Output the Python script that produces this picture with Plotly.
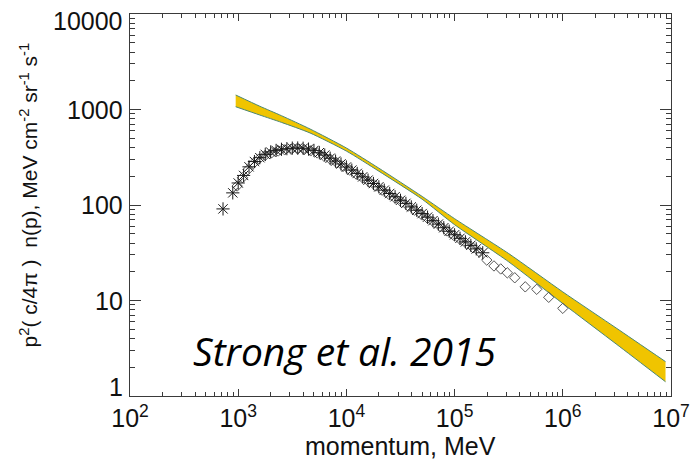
import math
import plotly.graph_objects as go

# Model band (upper / lower edges), momentum in MeV
band_p = [948, 1585, 2512, 4613, 10000, 19950, 50120, 100000, 316200, 1000000, 3162000, 8900000]
band_upper = [1419, 1081, 861, 625, 395, 243, 123, 71.9, 31.0, 12.3, 5.09, 2.29]
band_lower = [1069, 875, 733, 568, 367, 226, 115, 62.2, 25.4, 9.29, 3.46, 1.41]

# Data set 1 (asterisks)
ast_p = [724, 891, 1000, 1122, 1259, 1413, 1585, 1778, 1995, 2239, 2512, 2818, 3162,
         3548, 3981, 4467, 5012, 5623, 6310, 7079, 7943, 8913, 10000, 11220, 12590,
         14130, 15850, 17780, 19950, 22390, 25120, 28180, 31620, 35480, 39810, 44670,
         50120, 56230, 63100, 70790, 79430, 89130, 100000, 112200, 125900, 141300,
         158500, 182000]
ast_v = [91, 134, 170, 204, 251, 285, 313, 339, 359, 373, 383, 389, 394,
         395, 393, 385, 373, 353, 333, 309, 288, 269, 250, 232, 214,
         197, 182, 168, 155, 143, 132, 122, 112, 104, 95.5, 88.1,
         81.3, 74.6, 68.5, 63.1, 57.8, 53.1, 48.8, 44.8, 41.1, 37.8,
         34.7, 31.6]

# Data set 2 (diamonds)
dia_p = [977, 1096, 1230, 1380, 1549, 1778, 2042, 2344, 2692, 3090, 3548, 4074, 4677,
         5370, 6166, 7079, 8128, 9333, 10720, 12300, 14130, 16220, 18620, 21380,
         24550, 28180, 32360, 37150, 42660, 48980, 56230, 64570, 74130, 85110,
         97720, 112200, 128800, 147900, 169800, 198200, 231200, 266700, 306900,
         359700, 449800, 574100, 741300, 1000000]
dia_v = [158, 193, 234, 272, 302, 331, 353, 368, 378, 384, 385, 380, 369,
         351, 327, 302, 277, 254, 232, 211, 192, 174, 158, 143,
         130, 118, 107, 97.3, 88.3, 80.2, 72.4, 65.5, 59.2, 53.5,
         48.3, 43.7, 39.4, 35.6, 32.2, 26.5, 23.0, 21.4, 19.5,
         17.3, 13.9, 13.1, 10.8, 8.28]

x_ticks = [100, 1000, 10000, 100000, 1000000, 10000000]
x_ticktext = ["10<sup>2</sup>", "10<sup>3</sup>", "10<sup>4</sup>",
              "10<sup>5</sup>", "10<sup>6</sup>", "10<sup>7</sup>"]
y_ticks = [1, 10, 100, 1000, 10000]
y_ticktext = ["1", "10", "100", "1000", "10000"]

axis_col = "#3a3a3a"
edge_col = "rgb(75,135,115)"
fill_col = "rgb(240,196,0)"
font_family = "Liberation Sans, Arial, sans-serif"

fig = go.Figure()

fig.add_trace(go.Scatter(x=band_p, y=band_lower, mode="lines",
                         line=dict(color=edge_col, width=1, shape="spline", smoothing=0.6),
                         showlegend=False, hoverinfo="skip"))
fig.add_trace(go.Scatter(x=band_p, y=band_upper, mode="lines", fill="tonexty",
                         fillcolor=fill_col,
                         line=dict(color=edge_col, width=1, shape="spline", smoothing=0.6),
                         showlegend=False, hoverinfo="skip"))

fig.add_trace(go.Scatter(x=dia_p, y=dia_v, mode="markers",
                         marker=dict(symbol="diamond-open", size=8,
                                     color="#555555", line=dict(width=1, color="#555555")),
                         showlegend=False))
fig.add_trace(go.Scatter(x=ast_p, y=ast_v, mode="markers",
                         marker=dict(symbol="asterisk-open", size=11,
                                     color="#1a1a1a", line=dict(width=1, color="#1a1a1a")),
                         showlegend=False))

minor_x = [m * 10 ** e for e in range(2, 7) for m in range(2, 10)]
minor_y = [m * 10 ** e for e in range(0, 4) for m in range(2, 10)]

fig.update_xaxes(type="log", range=[2, 7], automargin=False,
                 tickmode="array", tickvals=x_ticks, ticktext=x_ticktext,
                 ticks="inside", ticklen=7, tickwidth=1, tickcolor=axis_col,
                 ticklabelstandoff=0,
                 minor=dict(tickmode="array", tickvals=minor_x, ticks="inside",
                            ticklen=4, tickwidth=1, tickcolor=axis_col, showgrid=False),
                 showline=True, linecolor=axis_col, linewidth=1, mirror="ticks",
                 showgrid=False, zeroline=False,
                 tickfont=dict(size=25, color="#111", family=font_family))
fig.update_yaxes(type="log", range=[0, 4], automargin=False,
                 tickmode="array", tickvals=y_ticks, showticklabels=False,
                 ticks="inside", ticklen=11, tickwidth=1, tickcolor=axis_col,
                 minor=dict(tickmode="array", tickvals=minor_y, ticks="inside",
                            ticklen=5, tickwidth=1, tickcolor=axis_col, showgrid=False),
                 showline=True, linecolor=axis_col, linewidth=1, mirror="ticks",
                 showgrid=False, zeroline=False)

# y tick labels, nudged inward at both ends of the axis
for i, (v, t) in enumerate(zip(y_ticks, y_ticktext)):
    shift = 0
    if i == 0:
        shift = 9
    elif i == len(y_ticks) - 1:
        shift = -7
    fig.add_annotation(text=t, xref="paper", yref="y", x=0, y=math.log10(v),
                       xanchor="right", yanchor="middle", xshift=-5, yshift=shift,
                       showarrow=False,
                       font=dict(size=25, color="#111", family=font_family))

# axis titles
fig.add_annotation(text="momentum, MeV", xref="paper", yref="paper",
                   x=0.5, y=0, yshift=-50, xanchor="center", yanchor="middle",
                   showarrow=False, borderpad=0,
                   font=dict(size=25, color="#111", family=font_family))
fig.add_annotation(text="p<sup>2</sup>( c/4π )  n(p), MeV cm<sup>-2</sup> sr<sup>-1</sup> s<sup>-1</sup>",
                   xref="paper", yref="paper", x=0, y=0.525, xshift=-101,
                   xanchor="center", yanchor="middle", textangle=-90, showarrow=False,
                   font=dict(size=21, color="#111", family=font_family))

fig.add_annotation(text="<i>Strong et al. 2015</i>", xref="paper", yref="paper",
                   x=0.113, y=0.12, xanchor="left", yanchor="middle", showarrow=False,
                   font=dict(size=39, color="#000", family="Open Sans, sans-serif"))

fig.update_layout(width=690, height=461,
                  margin=dict(l=130, r=19, t=14, b=65),
                  plot_bgcolor="white", paper_bgcolor="white")

fig.write_html("out.html")
